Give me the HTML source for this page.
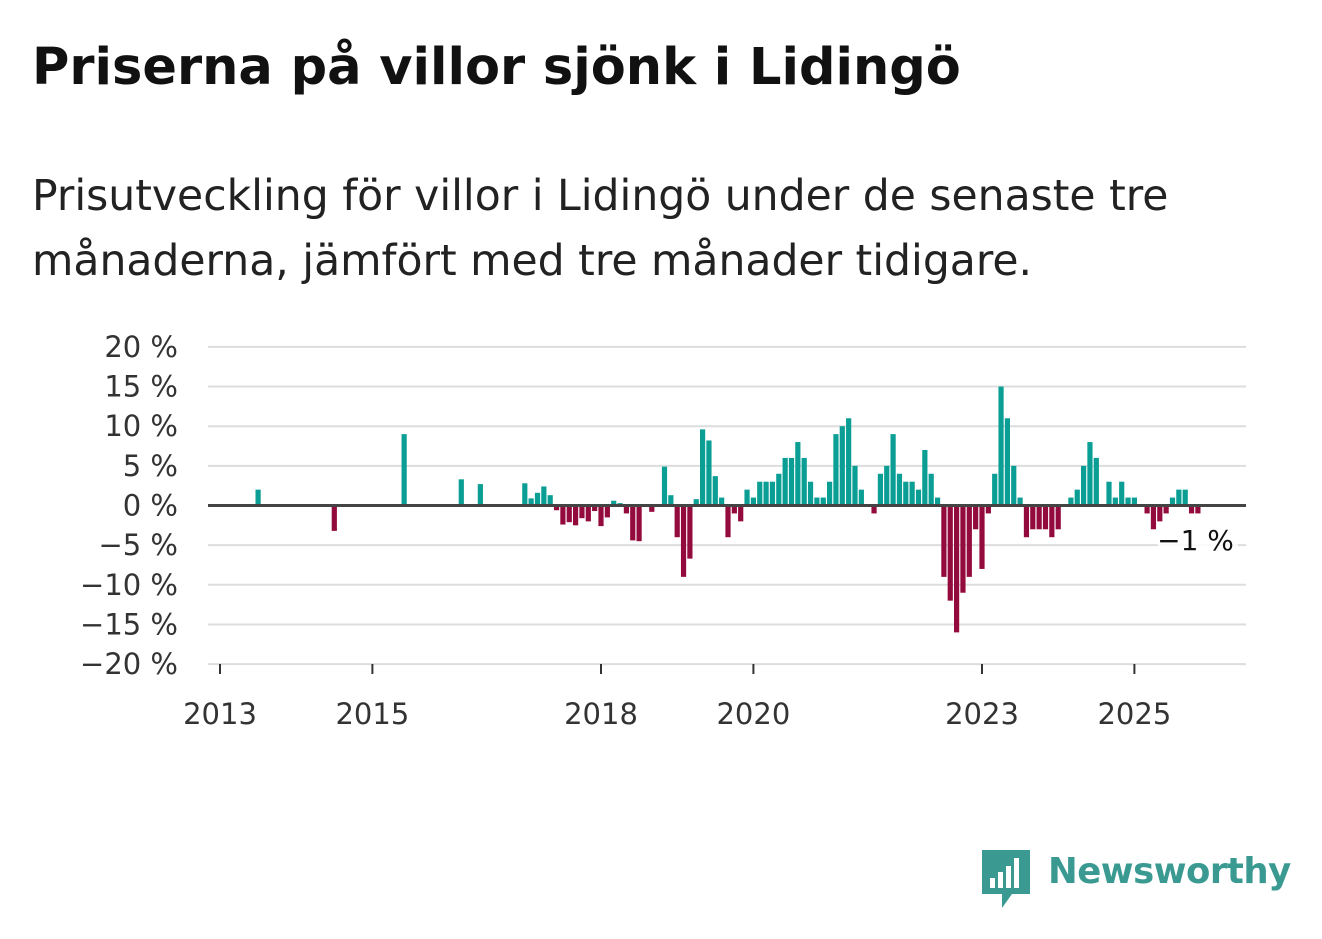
<!DOCTYPE html>
<html><head><meta charset="utf-8"><style>
body{margin:0;width:1322px;height:939px;background:#fff;font-family:"Liberation Sans","DejaVu Sans",sans-serif;overflow:hidden;position:relative}
#title{position:absolute;left:32px;top:38px;font-size:51px;font-weight:bold;color:#111;margin:0;font-family:"DejaVu Sans","Liberation Sans",sans-serif;white-space:nowrap}
#sub{position:absolute;left:32px;top:164px;font-size:42.5px;line-height:65px;color:#222;width:1200px;font-family:"DejaVu Sans","Liberation Sans",sans-serif}
svg{position:absolute;left:0;top:0}
</style></head><body>
<h1 id="title">Priserna på villor sjönk i Lidingö</h1>
<div id="sub">Prisutveckling för villor i Lidingö under de senaste tre månaderna, jämfört med tre månader tidigare.</div>
<svg id="chart" width="1322" height="939"></svg>
<div style="position:absolute;left:982px;top:850px;">
<svg width="50" height="60" style="position:absolute;left:0;top:0"><path d="M0 0H48V44H30L20 58V44H0Z" fill="#3a9a92"/><rect x="8" y="28" width="5" height="10" fill="#fff"/><rect x="16" y="22" width="5" height="16" fill="#fff"/><rect x="24" y="16" width="5" height="22" fill="#fff"/><rect x="32" y="8" width="5" height="30" fill="#fff"/></svg>
<span style="position:absolute;left:66px;top:1px;font-size:35.5px;font-weight:bold;color:#3a9a92;font-family:'DejaVu Sans','Liberation Sans',sans-serif;letter-spacing:-0.5px;white-space:nowrap">Newsworthy</span></div>
<script>
const startYear = 2013;
const monthIdx = [6,18,29,38,41,48,49,50,51,52,53,54,55,56,57,58,59,60,61,62,63,64,65,66,68,70,71,72,73,74,75,76,77,78,79,80,81,82,83,84,85,86,87,88,89,90,91,92,93,94,95,96,97,98,99,100,101,103,104,105,106,107,108,109,110,111,112,113,114,115,116,117,118,119,120,121,122,123,124,125,126,127,128,129,130,131,132,134,135,136,137,138,140,141,142,143,144,146,147,148,149,150,151,152,153,154];
const values = [2,-3.2,9,3.3,2.7,2.8,0.9,1.6,2.4,1.3,-0.6,-2.4,-2.1,-2.5,-1.6,-2,-0.7,-2.6,-1.5,0.6,0.3,-1,-4.4,-4.5,-0.8,4.9,1.3,-4,-9,-6.7,0.8,9.6,8.2,3.7,1,-4,-1,-2,2,1,3,3,3,4,6,6,8,6,3,1,1,3,9,10,11,5,2,-1,4,5,9,4,3,3,2,7,4,1,-9,-12,-16,-11,-9,-3,-8,-1,4,15,11,5,1,-4,-3,-3,-3,-4,-3,1,2,5,8,6,3,1,3,1,1,-1,-3,-2,-1,1,2,2,-1,-1];
const yTicks = [20,15,10,5,0,-5,-10,-15,-20];
const xTickYears = [2013,2015,2018,2020,2023,2025];
const lastLabel = "−1 %";
const NS="http://www.w3.org/2000/svg", svg=document.getElementById('chart');
const x0=220, pxYear=76.2, y0=505.5, pxPct=7.93;
const xs=m=>x0+m*pxYear/12, ys=v=>y0-v*pxPct;
function mk(t,a){const e=document.createElementNS(NS,t);for(const k in a)e.setAttribute(k,a[k]);svg.appendChild(e);return e;}
yTicks.forEach(v=>{
 if(v!==0){const g=mk('line',{x1:208,x2:1246,y1:ys(v),y2:ys(v),stroke:'#ddd','stroke-width':2});
 
 }
 const t=mk('text',{x:178,y:ys(v)+10,'text-anchor':'end','font-size':29,fill:'#333','font-family':'DejaVu Sans, Liberation Sans, sans-serif'});
 t.textContent=(v<0?'−'+(-v):v)+' %';
 
 
});
monthIdx.forEach((m,i)=>{const v=values[i];
 const r=mk('rect',{x:xs(m)-2.6,width:5.2,y:Math.min(ys(v),y0),height:Math.abs(ys(v)-y0),fill:v>=0?'#0a9e94':'#930b3d'});
 
 
});
const z=mk('line',{x1:208,x2:1246,y1:y0,y2:y0,stroke:'#444','stroke-width':3});


xTickYears.forEach(yr=>{const x=x0+(yr-startYear)*pxYear;
 const l=mk('line',{x1:x,x2:x,y1:664,y2:674,stroke:'#333','stroke-width':2});
 
 
 const t=mk('text',{x:x,y:724,'text-anchor':'middle','font-size':29,fill:'#333','font-family':'DejaVu Sans, Liberation Sans, sans-serif'});
 t.textContent=yr;
 
 
});
const lm=monthIdx[monthIdx.length-1];
const bg=mk('rect',{x:xs(lm)-40,y:524,width:80,height:32,fill:'#fff',opacity:0.85});


const lt=mk('text',{x:xs(lm)+36,y:550,'text-anchor':'end','font-size':28,fill:'#111','font-family':'DejaVu Sans, Liberation Sans, sans-serif'});
lt.textContent=lastLabel;


</script>
</body></html>
